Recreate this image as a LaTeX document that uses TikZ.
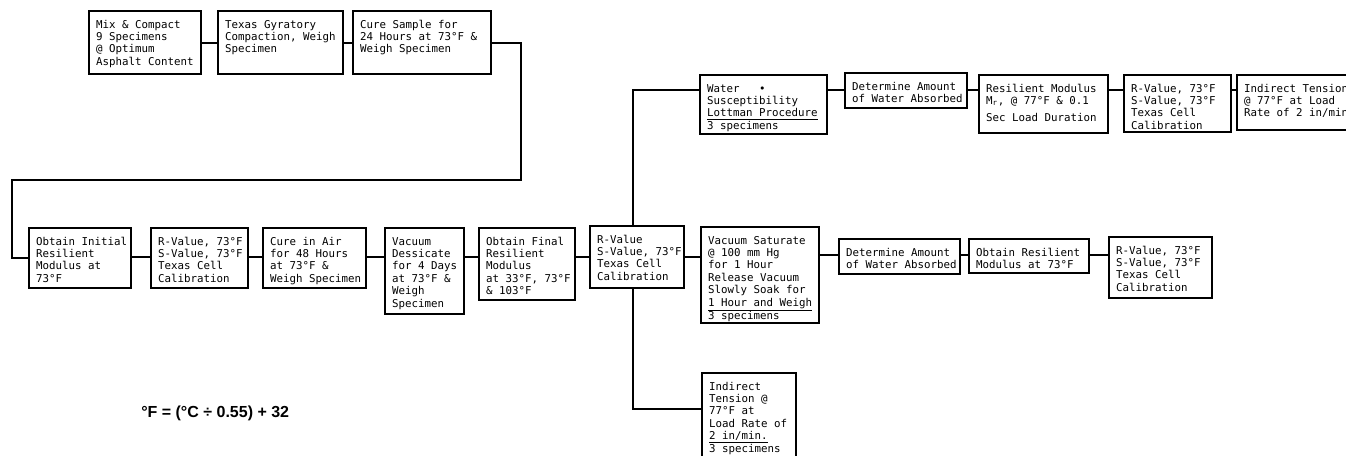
\documentclass[tikz,border=0pt]{standalone}
\usepackage{fontspec}
\setmainfont{Liberation Sans}
\newfontfamily\monof{DejaVu Sans Mono}
\newdimen\pxu \pxu=0.75pt
\newcommand{\bt}[3]{\begin{minipage}[t][\dimexpr#2\pxu-13pt\relax][t]{\dimexpr#1\pxu-11pt\relax}\begin{tabular}[t]{@{}l@{}}#3\end{tabular}\end{minipage}}
\tikzset{
  box/.style={draw, line width=1.2pt, anchor=north west, inner xsep=5.5pt, inner ysep=6.5pt,
    font=\monof\fontsize{8.1pt}{9.3pt}\selectfont},
  conn/.style={line width=1pt}
}
\begin{document}
\begin{tikzpicture}[x=0.75pt,y=-0.75pt]
\useasboundingbox (0,0) rectangle (1346,456);
\clip (0,0) rectangle (1346,456);
% top row
\node[box] (A) at (88,10) {\bt{112}{63}{Mix \& Compact\\9 Specimens\\@ Optimum\\Asphalt Content}};
\node[box] (B) at (217,10) {\bt{125}{63}{Texas Gyratory\\Compaction, Weigh\\Specimen}};
\node[box] (C) at (352,10) {\bt{138}{63}{Cure Sample for\\24 Hours at 73°F \&\\Weigh Specimen}};
% middle row
\node[box] (D) at (28,227) {\bt{102}{60}{Obtain Initial\\Resilient\\Modulus at\\73°F}};
\node[box] (E) at (150,227) {\bt{97}{60}{R-Value, 73°F\\S-Value, 73°F\\Texas Cell\\Calibration}};
\node[box] (F) at (262,227) {\bt{103}{60}{Cure in Air\\for 48 Hours\\at 73°F \&\\Weigh Specimen}};
\node[box] (G) at (384,227) {\bt{79}{86}{Vacuum\\Dessicate\\for 4 Days\\at 73°F \&\\Weigh\\Specimen}};
\node[box] (H) at (478,227) {\bt{96}{72}{Obtain Final\\Resilient\\Modulus\\at 33°F, 73°F\\\& 103°F}};
\node[box] (I) at (589,225) {\bt{94}{62}{R-Value\\S-Value, 73°F\\Texas Cell\\Calibration}};
\node[box] (J) at (700,226) {\bt{118}{96}{Vacuum Saturate\\@ 100 mm Hg\\for 1 Hour\\Release Vacuum\\Slowly Soak for\\\underline{1 Hour and Weigh}\\3 specimens}};
\node[box] (K) at (838,238) {\bt{121}{35}{Determine Amount\\of Water Absorbed}};
\node[box] (L) at (968,238) {\bt{120}{34}{Obtain Resilient\\Modulus at 73°F}};
\node[box] (M) at (1108,236) {\bt{103}{61}{R-Value, 73°F\\S-Value, 73°F\\Texas Cell\\Calibration}};
% bottom
\node[box] (N) at (701,372) {\bt{94}{95}{Indirect\\Tension @\\77°F at\\Load Rate of\\\underline{2 in/min.}\\3 specimens}};
% top right row
\node[box] (W) at (699,74) {\bt{127}{59}{Water~~~\textbullet\\Susceptibility\\\underline{Lottman Procedure}\\3 specimens}};
\node[box] (X) at (844,72) {\bt{122}{35}{Determine Amount\\of Water Absorbed}};
\node[box] (Y) at (978,74) {\bt{129}{58}{Resilient Modulus\\M\textsubscript{r}, @ 77°F \& 0.1\\[5\pxu]Sec Load Duration}};
\node[box] (Z) at (1123,74) {\bt{107}{57}{R-Value, 73°F\\S-Value, 73°F\\Texas Cell\\Calibration}};
\node[box] (Q) at (1236,74) {\bt{140}{55}{Indirect Tension\\@ 77°F at Load\\Rate of 2 in/min}};
% formula
\node[anchor=west, inner sep=0pt, font=\bfseries\fontsize{12pt}{14pt}\selectfont] (EQ) at (141,413) {°F = (°C ÷ 0.55) + 32};
% helper coordinates
\coordinate (T1) at (521,43);
\coordinate (T2) at (521,180);
\coordinate (T3) at (12,180);
\coordinate (T4) at (12,258);
\coordinate (LM) at (0,257);
\coordinate (LR) at (0,255);
\coordinate (LT) at (0,90);
\coordinate (LB) at (0,409);
\coordinate (V) at (633,0);
% connectors
\draw[conn] (A.east |- T1) -- (B.west |- T1);
\draw[conn] (B.east |- T1) -- (C.west |- T1);
\draw[conn] (C.east |- T1) -- (T1) -- (T2) -- (T3) -- (T4) -- (D.west |- T4);
\draw[conn] (D.east |- LM) -- (E.west |- LM);
\draw[conn] (E.east |- LM) -- (F.west |- LM);
\draw[conn] (F.east |- LM) -- (G.west |- LM);
\draw[conn] (G.east |- LM) -- (H.west |- LM);
\draw[conn] (H.east |- LM) -- (I.west |- LM);
\draw[conn] (I.east |- LM) -- (J.west |- LM);
\draw[conn] (J.east |- LR) -- (K.west |- LR);
\draw[conn] (K.east |- LR) -- (L.west |- LR);
\draw[conn] (L.east |- LR) -- (M.west |- LR);
\draw[conn] (V |- I.north) -- (V |- LT) -- (W.west |- LT);
\draw[conn] (V |- I.south) -- (V |- LB) -- (N.west |- LB);
\draw[conn] (W.east |- LT) -- (X.west |- LT);
\draw[conn] (X.east |- LT) -- (Y.west |- LT);
\draw[conn] (Y.east |- LT) -- (Z.west |- LT);
\draw[conn] (Z.east |- LT) -- (Q.west |- LT);
\end{tikzpicture}
\end{document}
